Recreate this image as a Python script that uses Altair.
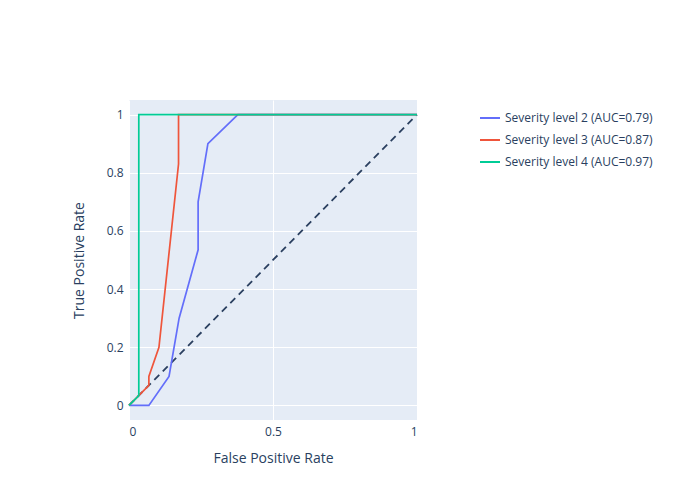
import altair as alt
import pandas as pd

# ROC curves
fpr_2 = [0.0, 0.069, 0.139, 0.174, 0.24, 0.24, 0.274, 0.378, 1.0]
tpr_2 = [0.0, 0.0, 0.1, 0.3, 0.535, 0.7, 0.9, 1.0, 1.0]
fpr_3 = [0.0, 0.069, 0.069, 0.104, 0.172, 0.172, 1.0]
tpr_3 = [0.0, 0.069, 0.1, 0.2, 0.83, 1.0, 1.0]
fpr_4 = [0.0, 0.034, 0.034, 1.0]
tpr_4 = [0.0, 0.034, 1.0, 1.0]
labels = ["Severity level 2 (AUC=0.79)", "Severity level 3 (AUC=0.87)", "Severity level 4 (AUC=0.97)"]
colors = ["#636efa", "#EF553B", "#00cc96"]

rows = []
for lab, xs, ys in zip(labels, [fpr_2, fpr_3, fpr_4], [tpr_2, tpr_3, tpr_4]):
    for i, (x, y) in enumerate(zip(xs, ys)):
        rows.append({"series": lab, "fpr": x, "tpr": y, "order": i})
df = pd.DataFrame(rows)
diag = pd.DataFrame({"fpr": [0, 1], "tpr": [0, 1]})

x_enc = alt.X("fpr:Q", title="False Positive Rate", scale=alt.Scale(domain=[0, 1], nice=False),
              axis=alt.Axis(values=[0, 0.5, 1], format="~g", titlePadding=14))
y_enc = alt.Y("tpr:Q", title="True Positive Rate", scale=alt.Scale(domain=[-0.05, 1.05], nice=False),
              axis=alt.Axis(values=[0, 0.2, 0.4, 0.6, 0.8, 1], format="~g", titlePadding=20))

diagonal = alt.Chart(diag).mark_line(color="#2a3f5f", strokeDash=[7, 5], strokeWidth=1.8).encode(
    x=x_enc, y=y_enc
)
lines = alt.Chart(df).mark_line(strokeWidth=1.7).encode(
    x="fpr:Q",
    y="tpr:Q",
    order="order:Q",
    color=alt.Color("series:N", scale=alt.Scale(domain=labels, range=colors),
                    legend=alt.Legend(title=None, orient="none", legendX=350, legendY=7,
                                      symbolType="stroke", symbolStrokeWidth=2, symbolSize=400,
                                      labelFontSize=12, labelColor="#2a3f5f", rowPadding=5)),
)

chart = (diagonal + lines).properties(
    width=288, height=320,
    autosize=alt.AutoSizeParams(type="none"),
    padding={"left": 121, "top": 92, "right": 275, "bottom": 72},
).configure_view(fill="#E5ECF6", strokeWidth=0).configure_axis(
    grid=True, gridColor="white", gridWidth=1, domain=False, ticks=False,
    labelColor="#2a3f5f", titleColor="#2a3f5f", labelFontSize=12, titleFontSize=14,
    titleFontWeight="normal", labelFont="Open Sans", titleFont="Open Sans", labelPadding=6,
).configure_legend(labelFont="Open Sans")

chart.save("out.html", embed_options={"renderer": "svg", "actions": False})
